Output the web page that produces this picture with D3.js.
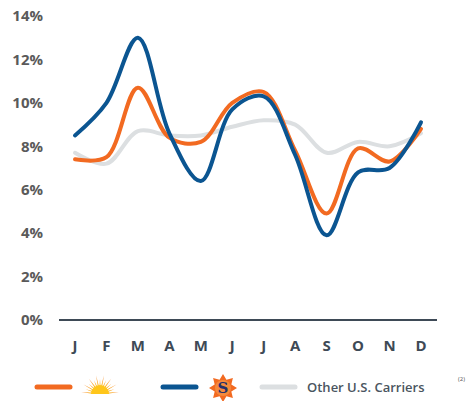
<!DOCTYPE html>
<html>
<head>
<meta charset="utf-8">
<script src="https://cdn.jsdelivr.net/npm/d3@7"></script>
<style>
  body { margin: 0; background: #fff; }
  text { font-family: "Open Sans", "Noto Sans", sans-serif; }
</style>
</head>
<body>
<div id="chart"></div>
<script>
var months = ["J","F","M","A","M","J","J","A","S","O","N","D"];
var yTicks = [0, 2, 4, 6, 8, 10, 12, 14];
var sunValues   = [7.4, 7.5, 10.7, 8.4, 8.2, 10.0, 10.5, 7.8, 4.9, 7.9, 7.3, 8.8];
var suncoValues = [8.5, 10.0, 13.0, 8.6, 6.4, 9.7, 10.3, 7.6, 3.9, 6.8, 7.0, 9.1];
var otherValues = [7.7, 7.2, 8.7, 8.5, 8.5, 8.9, 9.2, 9.0, 7.7, 8.2, 8.0, 8.6];

var orange = "#f26a21",
    navy = "#0b5591",
    lightgrey = "#dcdfe1",
    axisgrey = "#3e4a56",
    labelgrey = "#5a5a5a";

var width = 469, height = 401;

var svg = d3.select("#chart").append("svg")
  .attr("width", width)
  .attr("height", height);

var x = d3.scalePoint()
  .domain(d3.range(months.length))
  .range([75, 421]);

var y = d3.scaleLinear()
  .domain([0, 14])
  .range([320, 16]);

//y labels
svg.selectAll(".ylab")
  .data(yTicks)
  .enter().append("text")
  .attr("class", "ylab")
  .attr("x", 43)
  .attr("y", function(d) { return y(d); })
  .attr("dy", "0.35em")
  .attr("text-anchor", "end")
  .style("font-size", "15px")
  .style("font-weight", "bold")
  .style("fill", labelgrey)
  .text(function(d) { return d + "%"; });

//baseline
svg.append("line")
  .attr("x1", 59).attr("x2", 437)
  .attr("y1", y(0)).attr("y2", y(0))
  .style("stroke", axisgrey)
  .style("stroke-width", 2);

//month labels
svg.selectAll(".xlab")
  .data(months)
  .enter().append("text")
  .attr("class", "xlab")
  .attr("x", function(d, i) { return x(i); })
  .attr("y", 346)
  .attr("dy", "0.35em")
  .attr("text-anchor", "middle")
  .style("font-size", "15px")
  .style("font-weight", "bold")
  .style("fill", axisgrey)
  .text(function(d) { return d; });

var line = d3.line()
  .x(function(d, i) { return x(i); })
  .y(function(d) { return y(d); })
  .curve(d3.curveCatmullRom.alpha(0.5));

var series = [
  {values: otherValues, color: lightgrey},
  {values: sunValues, color: orange},
  {values: suncoValues, color: navy}
];

svg.selectAll(".series")
  .data(series)
  .enter().append("path")
  .attr("class", "series")
  .attr("d", function(d) { return line(d.values); })
  .style("fill", "none")
  .style("stroke", function(d) { return d.color; })
  .style("stroke-width", 4)
  .style("stroke-linecap", "round");

///////////////////////////// Legend /////////////////////////////
var legY = 387;
[{x1: 37, c: orange}, {x1: 163, c: navy}, {x1: 262, c: lightgrey}].forEach(function(d) {
  svg.append("line")
    .attr("x1", d.x1).attr("x2", d.x1 + 33)
    .attr("y1", legY).attr("y2", legY)
    .style("stroke", d.c)
    .style("stroke-width", 5)
    .style("stroke-linecap", "round");
});

//sun icon
var defs = svg.append("defs");
var grad = defs.append("radialGradient")
  .attr("id", "sungrad")
  .attr("gradientUnits", "userSpaceOnUse")
  .attr("cx", 0).attr("cy", 0).attr("r", 20);
grad.append("stop").attr("offset", "0%").attr("stop-color", "#ffd21f");
grad.append("stop").attr("offset", "40%").attr("stop-color", "#fdb813");
grad.append("stop").attr("offset", "100%").attr("stop-color", "#f47420");

var sun = svg.append("g").attr("transform", "translate(100,394)");
var nRays = 15;
d3.range(nRays).forEach(function(i) {
  var a = Math.PI * (i + 0.5) / nRays;
  var a1 = a - 0.1, a2 = a + 0.1;
  var rIn = 6, rOut = (i % 2 === 0) ? 19 : 15;
  sun.append("path")
    .attr("d", "M" + (-rIn * Math.cos(a1)) + "," + (-rIn * Math.sin(a1)) +
      " L" + (-rOut * Math.cos(a)) + "," + (-rOut * Math.sin(a)) +
      " L" + (-rIn * Math.cos(a2)) + "," + (-rIn * Math.sin(a2)) + "Z")
    .style("fill", "url(#sungrad)");
});
sun.append("path")
  .attr("d", "M-9,0 A9,9 0 0,1 9,0 Z")
  .style("fill", "#ffc61a");

//compass icon
var comp = svg.append("g").attr("transform", "translate(223,388)");
var pts = [];
d3.range(16).forEach(function(i) {
  var a = Math.PI * 2 * i / 16;
  var r = (i % 2 === 0) ? 14 : 9;
  pts.push([r * Math.sin(a), -r * Math.cos(a)]);
});
comp.append("path")
  .attr("d", "M" + pts.join("L") + "Z")
  .style("fill", orange);
comp.append("circle").attr("r", 8).style("fill", "#f58a3c");
comp.append("text")
  .attr("text-anchor", "middle")
  .attr("dy", "0.36em")
  .style("font-family", "'DejaVu Serif', 'Liberation Serif', serif")
  .style("font-weight", "bold")
  .style("font-size", "15px")
  .style("fill", "#27306b")
  .text("S");

svg.append("text")
  .attr("x", 307)
  .attr("y", legY)
  .attr("dy", "0.35em")
  .style("font-size", "13px")
  .style("font-weight", 600)
  .style("fill", "#4a5560")
  .text("Other U.S. Carriers");

svg.append("text")
  .attr("x", 458)
  .attr("y", 381)
  .style("font-size", "6px")
  .style("fill", "#555")
  .text("(2)");
</script>
</body>
</html>
